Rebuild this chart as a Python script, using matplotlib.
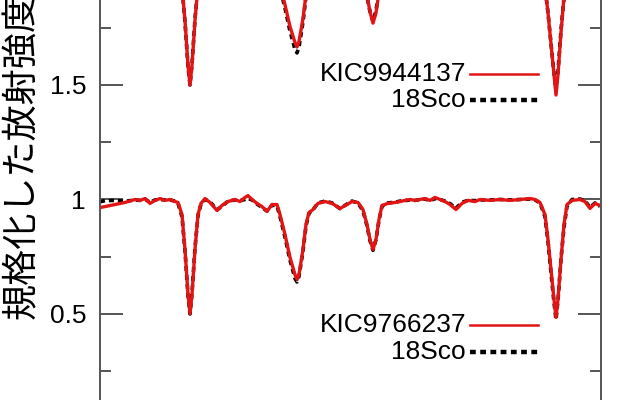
import matplotlib
matplotlib.use("Agg")
import matplotlib.pyplot as plt
from matplotlib.lines import Line2D
import numpy as np

# ---------------- data ----------------
wavelength = [
    6160.00, 6160.10, 6160.30, 6160.50, 6160.70, 6160.80, 6160.90, 6161.00, 6161.10, 6161.20,
    6161.30, 6161.40, 6161.50, 6161.56, 6161.64, 6161.70, 6161.76, 6161.80, 6161.84, 6161.90,
    6161.96, 6162.02, 6162.10, 6162.20, 6162.34, 6162.44, 6162.56, 6162.70, 6162.80, 6162.90,
    6162.96, 6163.04, 6163.14, 6163.24, 6163.34, 6163.44, 6163.54, 6163.60, 6163.70, 6163.80,
    6163.90, 6163.94, 6163.98, 6164.06, 6164.12, 6164.18, 6164.26, 6164.36, 6164.50, 6164.64,
    6164.80, 6164.94, 6165.04, 6165.16, 6165.26, 6165.34, 6165.40, 6165.46, 6165.52, 6165.58,
    6165.64, 6165.76, 6165.90, 6166.00, 6166.10, 6166.20, 6166.30, 6166.40, 6166.50, 6166.60,
    6166.70, 6166.80, 6166.90, 6167.00, 6167.12, 6167.24, 6167.36, 6167.50, 6167.60, 6167.80,
    6168.00, 6168.20, 6168.40, 6168.60, 6168.70, 6168.80, 6168.90, 6168.96, 6169.02, 6169.08,
    6169.12, 6169.16, 6169.22, 6169.28, 6169.34, 6169.44, 6169.60, 6169.70, 6169.80, 6169.90,
    6170.00,
]

kic9766237 = [
    0.965, 0.969, 0.978, 0.987, 1.000, 0.996, 1.004, 0.983, 0.996, 1.004,
    0.996, 1.000, 0.991, 0.987, 0.934, 0.782, 0.585, 0.502, 0.585, 0.782,
    0.934, 0.983, 1.004, 0.987, 0.952, 0.974, 0.991, 1.000, 0.991, 1.009,
    1.017, 1.000, 0.983, 0.969, 0.948, 0.978, 0.978, 0.934, 0.847, 0.747,
    0.672, 0.651, 0.672, 0.782, 0.891, 0.943, 0.956, 0.983, 0.991, 0.983,
    0.961, 0.978, 0.991, 0.987, 0.956, 0.891, 0.825, 0.782, 0.825, 0.913,
    0.974, 0.983, 0.987, 0.991, 0.996, 1.000, 0.996, 1.000, 1.004, 0.996,
    1.009, 1.000, 0.991, 0.978, 0.956, 0.983, 0.996, 0.991, 1.000, 0.996,
    1.000, 0.996, 1.000, 1.004, 1.000, 0.987, 0.934, 0.825, 0.694, 0.563,
    0.485, 0.563, 0.738, 0.891, 0.978, 0.996, 1.000, 0.991, 0.961, 0.983,
    0.974,
]

kic9944137 = [
    0.970, 0.975, 0.980, 0.990, 1.000, 0.996, 1.004, 0.985, 0.996, 1.004,
    0.996, 1.000, 0.991, 0.987, 0.930, 0.780, 0.585, 0.500, 0.585, 0.782,
    0.934, 0.983, 1.004, 0.987, 0.952, 0.974, 0.991, 1.000, 0.991, 1.009,
    1.017, 1.000, 0.983, 0.969, 0.948, 0.978, 0.978, 0.934, 0.850, 0.755,
    0.685, 0.666, 0.690, 0.790, 0.895, 0.943, 0.956, 0.983, 0.991, 0.983,
    0.961, 0.978, 0.991, 0.987, 0.958, 0.890, 0.820, 0.770, 0.815, 0.905,
    0.974, 0.983, 0.987, 0.991, 0.996, 1.000, 0.996, 1.000, 1.004, 0.996,
    1.009, 1.000, 0.991, 0.978, 0.956, 0.983, 0.996, 0.991, 1.000, 0.996,
    1.000, 0.996, 1.000, 1.004, 1.000, 0.987, 0.930, 0.815, 0.680, 0.545,
    0.456, 0.545, 0.730, 0.885, 0.975, 0.996, 1.000, 0.991, 0.961, 0.983,
    0.974,
]

sco18 = [
    0.990, 0.995, 0.996, 0.992, 0.998, 0.996, 1.002, 0.987, 0.998, 1.000,
    0.998, 0.998, 0.993, 0.983, 0.925, 0.775, 0.580, 0.500, 0.590, 0.790,
    0.930, 0.980, 1.000, 0.990, 0.955, 0.970, 0.993, 0.998, 0.995, 1.000,
    1.005, 0.998, 0.980, 0.965, 0.950, 0.975, 0.972, 0.925, 0.835, 0.735,
    0.655, 0.640, 0.665, 0.775, 0.885, 0.940, 0.955, 0.985, 0.993, 0.985,
    0.960, 0.980, 0.993, 0.985, 0.950, 0.885, 0.820, 0.778, 0.825, 0.910,
    0.970, 0.985, 0.988, 0.993, 0.995, 0.998, 0.996, 1.000, 1.002, 0.995,
    1.004, 1.000, 0.993, 0.982, 0.962, 0.988, 0.996, 0.995, 0.998, 0.998,
    1.000, 0.998, 1.000, 1.002, 0.998, 0.985, 0.925, 0.815, 0.680, 0.550,
    0.476, 0.560, 0.740, 0.880, 0.970, 1.000, 1.002, 0.995, 0.965, 0.985,
    0.970,
]

offsets = [1.0, 0.0]  # upper panel spectrum shifted by +1
labels_upper = ["KIC9944137", "18Sco"]
labels_lower = ["KIC9766237", "18Sco"]
ylabel = "規格化した放射強度"
yticks = [0.5, 1.0, 1.5]
yticklabels = ["0.5", "1", "1.5"]

# ---------------- plot ----------------
W, H = 640, 400
fig = plt.figure(figsize=(W / 100, H / 100), dpi=100)
ax = fig.add_axes([100 / W, 0, 501 / W, 1])

wl = np.array(wavelength)
red = "#e31414"
dash_kw = dict(color="black", lw=2.6, linestyle=(0, (1.4, 1.1)), dash_capstyle="butt")
red_kw = dict(color=red, lw=2.4)

ax.plot(wl, np.array(sco18) + offsets[0], **dash_kw)
ax.plot(wl, np.array(kic9944137) + offsets[0], **red_kw)
ax.plot(wl, np.array(sco18) + offsets[1], **dash_kw)
ax.plot(wl, np.array(kic9766237) + offsets[1], **red_kw)

ax.set_xlim(6160.0, 6170.02)
ax.set_ylim(0.1245, 1.871)

for s in ("top", "bottom"):
    ax.spines[s].set_visible(False)
for s in ("left", "right"):
    ax.spines[s].set_color("#555555")
    ax.spines[s].set_linewidth(1.4)

ax.set_xticks([])
ax.set_yticks(yticks)
ax.set_yticklabels(yticklabels)
ax.set_yticks(np.arange(0.25, 1.9, 0.25), minor=True)
ax.tick_params(axis="y", which="both", direction="in", left=True, right=True,
               colors="#555555", width=1.4, labelcolor="black",
               labelsize=19, pad=10)
ax.tick_params(axis="y", which="major", length=16.5)
ax.tick_params(axis="y", which="minor", length=8)
for t in ax.get_yticklabels():
    t.set_fontfamily("Liberation Sans")

ax.set_ylabel(ylabel, fontsize=26, family=["Noto Sans CJK JP", "DejaVu Sans"],
              ha="center", va="center")
ax.yaxis.set_label_coords((22 - 100) / 501, (400 - 156) / 400)

# legends (text right-aligned, key sample on the right)
def add_legend(labels, y_red_px, y_blk_px):
    tf = fig.transFigure
    x_text = 466 / W
    x0, x1 = 470 / W, 538 / W
    for lab, ypx, kw in ((labels[0], y_red_px, dict(red_kw, lw=1.8)),
                         (labels[1], y_blk_px, dict(dash_kw, lw=3.2, linestyle=(0, (1.3, 1.0))))):
        yf = 1 - ypx / H
        fig.text(x_text, yf, lab, ha="right", va="center", fontsize=19,
                 family="Liberation Sans")
        fig.add_artist(Line2D([x0, x1], [yf, yf], transform=tf, **kw))

add_legend(labels_upper, 74, 100)
add_legend(labels_lower, 325, 352)

fig.savefig("out.png", dpi=100)
